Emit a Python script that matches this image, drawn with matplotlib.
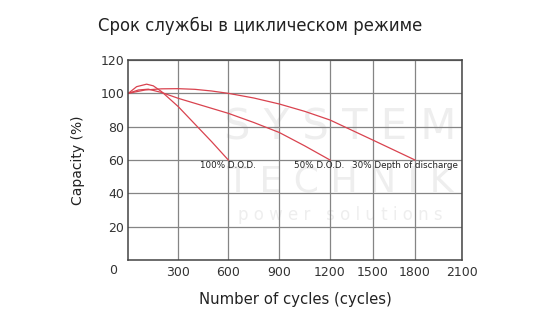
import numpy as np
import matplotlib
matplotlib.use('Agg')
import matplotlib.pyplot as plt

# Данные: ресурс батареи (циклы) при разной глубине разряда
cycles_100 = [0, 50, 110, 150, 200, 300, 400, 500, 600]
capacity_100 = [100, 104, 105.5, 104.5, 101, 92, 81.5, 71, 60]

cycles_50 = [0, 60, 120, 200, 300, 450, 600, 750, 900, 1050, 1200]
capacity_50 = [100, 102, 102.5, 100.5, 97, 92.5, 88, 82.5, 76.5, 68.5, 60]

cycles_30 = [0, 100, 200, 300, 400, 500, 600, 750, 900, 1050, 1200, 1350, 1500, 1650, 1800]
capacity_30 = [100, 102, 102.7, 102.8, 102.4, 101.4, 100, 97.2, 93.6, 89.2, 84, 78, 72, 66, 60]

x_ticks = [300, 600, 900, 1200, 1500, 1800, 2100]
y_ticks = [20, 40, 60, 80, 100, 120]

labels = ['100% D.O.D.', '50% D.O.D.', '30% Depth of discharge']
label_x = [600, 1135, 1729]
label_y = 56.4

# Неравномерная шкала по X (как на исходной картинке)
scale_cycles = [0, 300, 600, 900, 1200, 1500, 1800, 2100]
scale_pos = [0, 50, 100, 151, 201.7, 244.4, 286.7, 334]

def fwd(x):
    return np.interp(x, scale_cycles, scale_pos)

def inv(p):
    return np.interp(p, scale_pos, scale_cycles)

fig = plt.figure(figsize=(5.52, 3.2), dpi=100)
ax = fig.add_axes([128.3 / 552, 1 - 260 / 320, 334 / 552, 200 / 320])
ax.set_facecolor('none')

# Водяной знак
wm = '#eeeeee'
fig.text(340 / 552, 1 - 127 / 320, 'S Y S T E M', ha='center', va='center',
         fontsize=30, color=wm, zorder=-1)
fig.text(340 / 552, 1 - 181 / 320, 'T E C H N I K', ha='center', va='center',
         fontsize=26, color=wm, zorder=-1)
fig.text(340 / 552, 1 - 215 / 320, 'p o w e r   s o l u t i o n s', ha='center', va='center',
         fontsize=12, color=wm, zorder=-1)

ax.set_xscale('function', functions=(fwd, inv))
ax.set_xlim(0, 2100)
ax.set_ylim(0, 120)

red = '#d9434f'
ax.plot(cycles_100, capacity_100, color=red, lw=0.9)
ax.plot(cycles_50, capacity_50, color=red, lw=0.9)
ax.plot(cycles_30, capacity_30, color=red, lw=0.9)

for t, lx in zip(labels, label_x):
    ax.text(lx, label_y, t, ha='center', va='center', fontsize=6.3, color='#222222')

ax.set_xticks(x_ticks)
ax.set_yticks(y_ticks)
ax.set_xticklabels([str(v) for v in x_ticks])
ax.set_yticklabels([str(v) for v in y_ticks])
ax.xaxis.set_minor_locator(matplotlib.ticker.NullLocator())
ax.tick_params(length=0, labelsize=9, colors='#333333')
ax.tick_params(axis='x', pad=4)
ax.tick_params(axis='y', pad=3)
ax.grid(True, color='#858585', lw=0.9)
ax.set_axisbelow(True)
for s in ax.spines.values():
    s.set_color('#444444')
    s.set_linewidth(1.1)

# "0" в углу
ax.text(-0.045, -0.05, '0', transform=ax.transAxes, ha='center', va='center',
        fontsize=9, color='#333333')

ax.set_xlabel('Number of cycles (cycles)', fontsize=10.7, color='#222222', labelpad=10)
ax.set_ylabel('Capacity (%)', fontsize=10, color='#222222', labelpad=11)
fig.text(260 / 552, 1 - 26 / 320, 'Срок службы в циклическом режиме', ha='center', va='center',
         fontsize=11.9, color='#222222')

fig.savefig('out.png', dpi=100)
